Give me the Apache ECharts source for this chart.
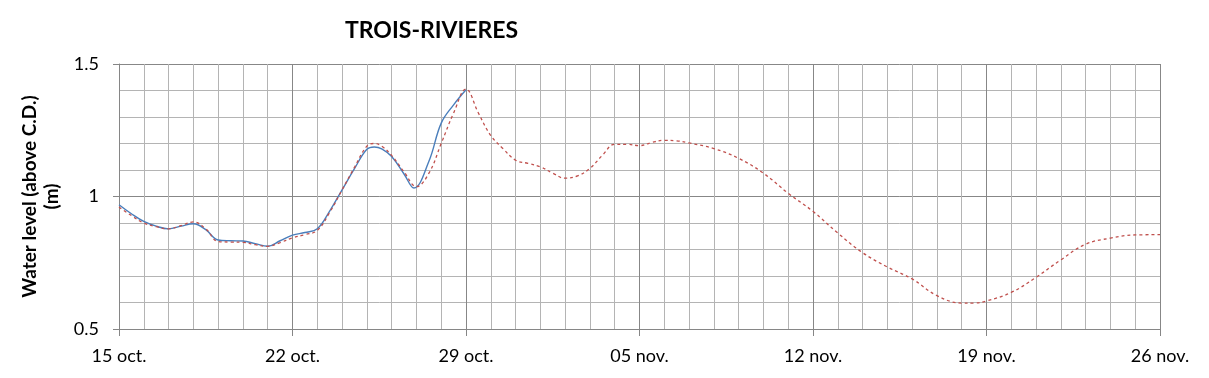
<!DOCTYPE html>
<html>
<head>
<meta charset="utf-8">
<script src="https://cdn.jsdelivr.net/npm/echarts@6/dist/echarts.min.js"></script>
<style>
html,body{margin:0;padding:0;background:#fff;}
#chart{width:1209px;height:378px;}
</style>
</head>
<body>
<div id="chart"></div>
<script>
// Days counted from 15 oct.
var tickLabels = ["15 oct.", "22 oct.", "29 oct.", "05 nov.", "12 nov.", "19 nov.", "26 nov."];

var observedDays = [0, 0.5, 1, 1.5, 2, 2.5, 3, 3.5, 4, 4.5, 5, 5.5, 6, 6.5, 7, 7.5, 8, 8.5, 9, 9.5, 10, 10.3, 10.6, 11, 11.5, 11.9, 12.5, 13, 13.5, 14];
var observedLevels = [0.969, 0.935, 0.906, 0.888, 0.878, 0.888, 0.897, 0.875, 0.836, 0.833, 0.832, 0.822, 0.812, 0.833, 0.854, 0.864, 0.878, 0.945, 1.025, 1.105, 1.178, 1.187, 1.18, 1.151, 1.085, 1.032, 1.132, 1.277, 1.346, 1.403];

var predictedDays = [0, 0.5, 1, 1.5, 2, 2.5, 3, 3.5, 4, 4.5, 5, 5.5, 6, 6.5, 7, 7.5, 8, 8.5, 9, 9.5, 10, 10.3, 10.6, 11, 11.5, 12, 12.5, 13, 13.5, 14, 14.5, 15, 15.5, 16, 16.5, 17, 17.5, 18, 18.5, 19, 19.5, 20, 20.5, 21, 21.5, 22, 22.5, 23, 24, 25, 26, 27, 28, 29, 30, 31, 32, 33, 34, 34.5, 35, 36, 37, 38, 39, 40, 41, 42];
var predictedLevels = [0.96, 0.928, 0.9, 0.886, 0.878, 0.89, 0.904, 0.878, 0.83, 0.828, 0.827, 0.818, 0.812, 0.826, 0.844, 0.856, 0.872, 0.94, 1.025, 1.11, 1.19, 1.2, 1.19, 1.155, 1.093, 1.037, 1.087, 1.2, 1.315, 1.405, 1.315, 1.23, 1.18, 1.137, 1.125, 1.112, 1.088, 1.069, 1.078, 1.106, 1.155, 1.197, 1.197, 1.192, 1.204, 1.212, 1.21, 1.202, 1.181, 1.144, 1.088, 1.012, 0.944, 0.862, 0.788, 0.734, 0.689, 0.626, 0.598, 0.598, 0.606, 0.638, 0.695, 0.761, 0.82, 0.843, 0.855, 0.856];

function pairs(xs, ys) {
  return xs.map(function (x, i) { return [x, ys[i]]; });
}

var chart = echarts.init(document.getElementById('chart'), null, {renderer: 'canvas'});
var font = 'Lato, "Open Sans", sans-serif';

chart.setOption({
  animation: false,
  backgroundColor: '#ffffff',
  title: {
    text: 'TROIS-RIVIERES',
    left: 340,
    top: 14,
    textStyle: {fontFamily: font, fontWeight: 'bold', fontSize: 23, color: '#000'}
  },
  grid: {left: 119, right: 49, top: 64, bottom: 49, containLabel: false},
  xAxis: {
    type: 'value',
    min: 0,
    max: 42,
    interval: 7,
    axisLine: {show: true, lineStyle: {color: '#868686', width: 1}},
    axisTick: {show: true, length: 7, lineStyle: {color: '#868686'}},
    minorTick: {show: false, splitNumber: 7},
    axisLabel: {
      fontFamily: font, fontSize: 18, color: '#000', margin: 18,
      showMinLabel: true, showMaxLabel: true,
      formatter: function (v) { return tickLabels[Math.round(v / 7)] || ''; }
    },
    splitLine: {show: true, lineStyle: {color: '#878787', width: 1}},
    minorSplitLine: {show: true, lineStyle: {color: '#b4b4b4', width: 1}}
  },
  yAxis: {
    type: 'value',
    min: 0.5,
    max: 1.5,
    interval: 0.5,
    name: 'Water level (above C.D.)\n(m)',
    nameLocation: 'middle',
    nameGap: 52,
    nameRotate: 90,
    nameTextStyle: {fontFamily: font, fontWeight: 'bold', fontSize: 19, color: '#000', lineHeight: 22},
    axisLine: {show: true, lineStyle: {color: '#868686', width: 1}},
    axisTick: {show: true, length: 6, lineStyle: {color: '#868686'}},
    minorTick: {show: false, splitNumber: 5},
    axisLabel: {
      fontFamily: font, fontSize: 18, color: '#000', margin: 20,
      formatter: function (v) { return String(Math.round(v * 10) / 10); }
    },
    splitLine: {show: true, lineStyle: {color: '#878787', width: 1}},
    minorSplitLine: {show: true, lineStyle: {color: '#b4b4b4', width: 1}}
  },
  series: [
    {
      name: 'Observed',
      type: 'line',
      data: pairs(observedDays, observedLevels),
      smooth: 0.4,
      showSymbol: false,
      symbol: 'none',
      lineStyle: {color: '#4a7ebb', width: 1.4, type: 'solid'},
      z: 3
    },
    {
      name: 'Predicted',
      type: 'line',
      data: pairs(predictedDays, predictedLevels),
      smooth: 0.4,
      showSymbol: false,
      symbol: 'none',
      lineStyle: {color: '#c0504d', width: 1.3, type: [3, 3]},
      z: 4
    }
  ]
});
</script>
</body>
</html>
